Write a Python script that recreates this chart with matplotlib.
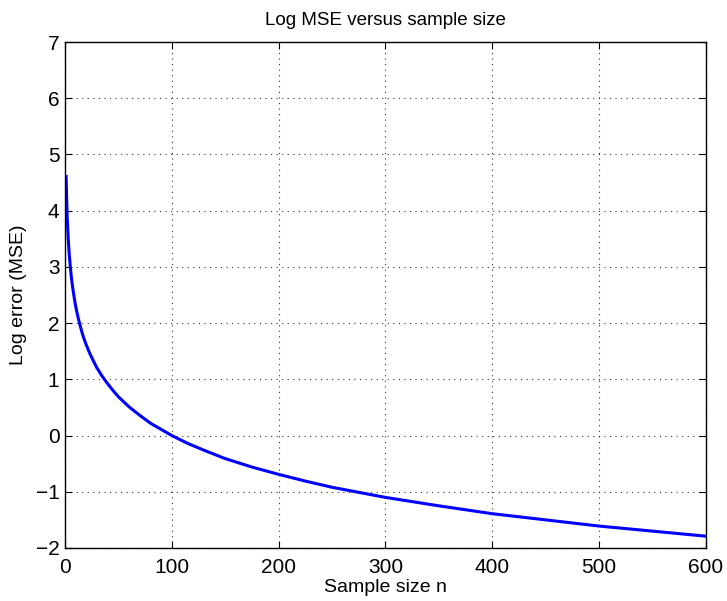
import numpy as np
import matplotlib
matplotlib.use("Agg")
import matplotlib.pyplot as plt

plt.rcParams['font.family'] = ['Liberation Sans', 'DejaVu Sans']

# values
sample_n = [1, 2, 3, 4, 5, 6, 7, 8, 9, 10, 12, 14, 16, 18, 20, 23, 26, 30, 35,
            40, 45, 50, 55, 60, 70, 80, 90, 100, 115, 130, 150, 175, 200, 225,
            250, 275, 300, 350, 400, 450, 500, 550, 600]
log_mse = [4.61, 3.91, 3.51, 3.22, 3.00, 2.81, 2.66, 2.53, 2.41, 2.30, 2.12,
           1.97, 1.83, 1.71, 1.61, 1.47, 1.35, 1.20, 1.05, 0.92, 0.80, 0.69,
           0.60, 0.51, 0.36, 0.22, 0.11, 0.00, -0.14, -0.26, -0.41, -0.56,
           -0.69, -0.81, -0.92, -1.01, -1.10, -1.25, -1.39, -1.50, -1.61,
           -1.70, -1.79]

x_ticks = [0, 100, 200, 300, 400, 500, 600]
y_ticks = [-2, -1, 0, 1, 2, 3, 4, 5, 6, 7]

fig = plt.figure(figsize=(7.27, 6.01), dpi=100)
ax = fig.add_axes([0.0894, 0.0882, 0.8816, 0.8418])

ax.plot(sample_n, log_mse, color='#0000ff', linewidth=2.2)

ax.set_xlim(0, 600)
ax.set_ylim(-2, 7)
ax.set_xticks(x_ticks)
ax.set_yticks(y_ticks)
ax.set_yticklabels([str(v).replace('-', '\u2212') for v in y_ticks])
ax.tick_params(direction='in', top=True, right=True, labelsize=15, length=5, width=0.8)
ax.tick_params(axis='x', pad=7)
ax.tick_params(axis='y', pad=4)
ax.grid(True, linestyle=(0, (1, 4)), color='#333333', linewidth=0.8)
for s in ax.spines.values():
    s.set_linewidth(1.0)

ax.set_title('Log MSE versus sample size', fontsize=13.5, pad=12)
ax.set_xlabel('Sample size n', fontsize=14, labelpad=2)
ax.set_ylabel('Log error (MSE)', fontsize=14, labelpad=6)

fig.savefig('out.png', dpi=100)
